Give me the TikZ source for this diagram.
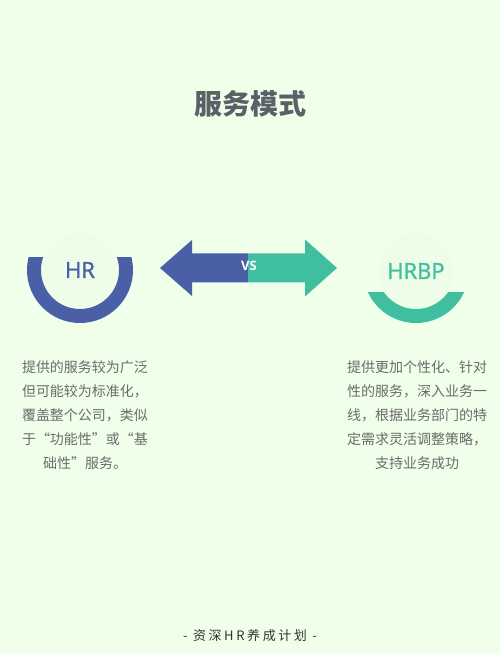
\documentclass[tikz,border=0pt]{standalone}
\usepackage{fontspec}
\newfontfamily\cjk{Noto Sans CJK SC}
\newfontfamily\latinsans[FakeBold=1.4]{Open Sans}
\newfontfamily\latinbold{Open Sans Bold}
\usetikzlibrary{positioning}
\definecolor{bgmint}{HTML}{F0FFEA}
\definecolor{innermint}{HTML}{EEFDE8}
\definecolor{hrblue}{HTML}{4A5FA6}
\definecolor{bpteal}{HTML}{40BFA0}
\definecolor{titlegray}{HTML}{5A6067}
\definecolor{textgray}{HTML}{6B6B6B}
\definecolor{footgray}{HTML}{333333}
\tikzset{
    modelpic/.style={x=1pt, y=1pt},
    headline/.style={font=\cjk\bfseries\fontsize{28}{30}\selectfont, text=titlegray, anchor=base, inner sep=0pt},
    ringlabel/.style={font=\latinsans\fontsize{22}{24}\selectfont, inner sep=0pt},
    vslabel/.style={font=\latinbold\fontsize{13}{14}\selectfont, text=white, inner sep=0pt},
    desc/.style={font=\cjk\fontsize{14}{24}\selectfont, text=textgray, align=center, anchor=base, inner sep=0pt},
    footer/.style={font=\cjk\addfontfeatures{LetterSpace=20}\fontsize{13}{14}\selectfont, text=footgray, anchor=base, inner sep=0pt},
    % faint disc behind the label
    halo/.style={fill=innermint},
}

\begin{document}
\begin{tikzpicture}[modelpic]
    \useasboundingbox (0,0) rectangle (500,654);
    \fill[bgmint] (0,0) rectangle (500,654);

    \node[headline] (title) at (250,539) {服务模式};

    % the two rings
    \coordinate (hrc) at (80,384);
    \coordinate (bpc) at (416,384);
    \fill[halo] (hrc) circle[radius=37];
    \fill[halo] (bpc) circle[radius=37];
    \begin{scope}
        \clip ([shift={(-60,12)}]hrc) rectangle ([shift={(60,-60)}]hrc);
        \fill[hrblue, even odd rule] (hrc) circle[radius=53] (hrc) circle[radius=39];
    \end{scope}
    \begin{scope}
        \clip ([shift={(-60,-23)}]bpc) rectangle ([shift={(60,-60)}]bpc);
        \fill[bpteal, even odd rule] (bpc) circle[radius=53] (bpc) circle[radius=39];
    \end{scope}
    \node[ringlabel, text=hrblue] (hr) at (hrc) {HR};
    \node[ringlabel, text=bpteal] (hrbp) at ([yshift=-1]bpc) {HRBP};

    % double arrow, split in the middle
    \coordinate (vs) at (248,386);
    \begin{scope}[shift={(vs)}]
        \fill[hrblue] (0,14.5) -- (-56,14.5) -- (-56,28) -- (-88,0) -- (-56,-28) -- (-56,-14.5) -- (0,-14.5) -- cycle;
        \fill[bpteal] (0,14.5) -- (57,14.5) -- (57,28.5) -- (89,0) -- (57,-28.5) -- (57,-14.5) -- (0,-14.5) -- cycle;
    \end{scope}
    \node[vslabel] (vstext) at ([xshift=1,yshift=2]vs) {VS};

    % base anchor sits on the last line
    \node[desc] (hrdesc) at (85,185) {提供的服务较为广泛\\但可能较为标准化，\\覆盖整个公司，类似\\于“功能性”或“基\\础性”服务。};
    \node[desc] (bpdesc) at (417,185) {提供更加个性化、针对\\性的服务，深入业务一\\线，根据业务部门的特\\定需求灵活调整策略，\\支持业务成功};

    \node[footer] (foot) at (250,13) {- 资深HR养成计划 -};
\end{tikzpicture}
\end{document}
